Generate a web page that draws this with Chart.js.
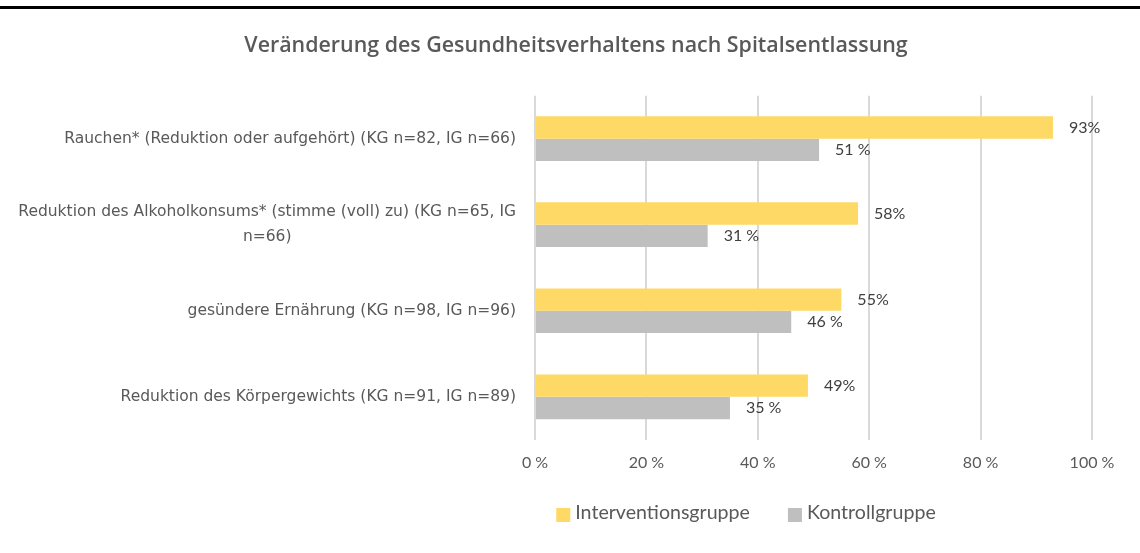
<!DOCTYPE html>
<html>
<head>
<meta charset="utf-8">
<script src="https://cdn.jsdelivr.net/npm/chart.js@4.4.0/dist/chart.umd.min.js"></script>
<style>
html, body { margin: 0; padding: 0; background: #fff; }
#wrap { position: relative; width: 1140px; height: 553px; }
#topline { position: absolute; left: 0; top: 6px; width: 1140px; height: 3px; background: #000; }
</style>
</head>
<body>
<div id="wrap">
  <div id="topline"></div>
  <canvas id="chart" width="1140" height="553"></canvas>
</div>
<script>
// datos del grafico
var categorias = [
    'Rauchen* (Reduktion oder aufgehört) (KG n=82, IG n=66)',
    ['Reduktion des Alkoholkonsums* (stimme (voll) zu) (KG n=65, IG', 'n=66)'],
    'gesündere Ernährung (KG n=98, IG n=96)',
    'Reduktion des Körpergewichts (KG n=91, IG n=89)'
];
var interventionsgruppe = [93, 58, 55, 49];
var kontrollgruppe = [51, 31, 46, 35];
var ticksX = [0, 20, 40, 60, 80, 100];

var gris = '#595959';

// el titulo va centrado un poco a la derecha, como en el original
var moverTitulo = {
    id: 'moverTitulo',
    afterLayout: function(chart) {
        if (chart.titleBlock) chart.titleBlock.left = 60;
    }
};

// etiquetas del eje y: cada bloque alineado a la derecha, lineas centradas entre si
var etiquetasY = {
    id: 'etiquetasY',
    afterDraw: function(chart) {
        var ctx = chart.ctx;
        var esc = chart.scales.y;
        ctx.save();
        ctx.font = '15.5px "DejaVu Sans"';
        ctx.fillStyle = gris;
        ctx.textBaseline = 'middle';
        ctx.textAlign = 'center';
        chart.data.labels.forEach(function(lab, i) {
            var lineas = [].concat(lab);
            var yc = esc.getPixelForTick(i);
            var ancho = Math.max.apply(null, lineas.map(function(l) { return ctx.measureText(l).width; }));
            var xc = esc.right - 19 - ancho / 2;
            lineas.forEach(function(l, k) {
                ctx.fillText(l, xc, yc + (k - (lineas.length - 1) / 2) * 25);
            });
        });
        ctx.restore();
    }
};

// etiquetas de valor al final de cada barra
var etiquetas = {
    id: 'etiquetas',
    afterDatasetsDraw: function(chart) {
        var ctx = chart.ctx;
        ctx.save();
        ctx.font = '16px Lato';
        ctx.fillStyle = '#404040';
        ctx.textBaseline = 'middle';
        chart.data.datasets.forEach(function(ds, i) {
            chart.getDatasetMeta(i).data.forEach(function(bar, j) {
                ctx.fillText(ds.data[j] + ds.sufijo, bar.x + 16, bar.y);
            });
        });
        ctx.restore();
    }
};

// leyenda dibujada a mano (desplazada a la derecha como en el original)
var leyenda = {
    id: 'leyenda',
    afterDraw: function(chart) {
        var ctx = chart.ctx;
        var ds = chart.data.datasets;
        ctx.save();
        ctx.font = '19.6px Lato';
        ctx.textBaseline = 'middle';
        var caja = 14, sep = 5, hueco = 38;
        var total = 0;
        ds.forEach(function(d, i) {
            total += caja + sep + ctx.measureText(d.label).width + (i < ds.length - 1 ? hueco : 0);
        });
        var x = 746 - total / 2;
        var y = 513;
        ds.forEach(function(d) {
            ctx.fillStyle = d.backgroundColor;
            ctx.fillRect(x, y - 5, caja, caja);
            ctx.fillStyle = gris;
            ctx.fillText(d.label, x + caja + sep, y);
            x += caja + sep + ctx.measureText(d.label).width + hueco;
        });
        ctx.restore();
    }
};

var datos = {
    type: 'bar',
    data: {
        labels: categorias,
        datasets: [{
            label: 'Interventionsgruppe',
            data: interventionsgruppe,
            backgroundColor: '#FFD966',
            sufijo: '%'
        }, {
            label: 'Kontrollgruppe',
            data: kontrollgruppe,
            backgroundColor: '#BFBFBF',
            sufijo: ' %'
        }]
    },
    options: {
        indexAxis: 'y',
        responsive: false,
        animation: false,
        categoryPercentage: 0.52,
        barPercentage: 1,
        layout: { padding: { left: 0, right: 48, top: 0, bottom: 68 } },
        plugins: {
            legend: { display: false },
            tooltip: { enabled: false },
            title: {
                display: true,
                text: 'Veränderung des Gesundheitsverhaltens nach Spitalsentlassung',
                color: gris,
                font: { family: 'Open Sans', size: 21.4, weight: '600' },
                padding: { top: 33, bottom: 37 }
            }
        },
        scales: {
            x: {
                min: 0,
                max: 100,
                afterBuildTicks: function(scale) {
                    scale.ticks = ticksX.map(function(v) { return { value: v }; });
                },
                grid: { color: '#D9D9D9', lineWidth: 2, drawTicks: false },
                border: { display: false },
                ticks: {
                    color: gris,
                    padding: 13,
                    font: { family: 'Lato', size: 16 },
                    callback: function(v) { return v + ' %'; }
                }
            },
            y: {
                grid: { display: false, drawTicks: false },
                border: { display: false },
                afterFit: function(scale) {
                    scale.width = 535;
                    scale.paddingTop = 0;
                    scale.paddingBottom = 0;
                },
                ticks: { display: false }
            }
        }
    },
    plugins: [moverTitulo, etiquetasY, etiquetas, leyenda]
};

var canvas = document.getElementById('chart').getContext('2d');
window.barras = new Chart(canvas, datos);
</script>
</body>
</html>
